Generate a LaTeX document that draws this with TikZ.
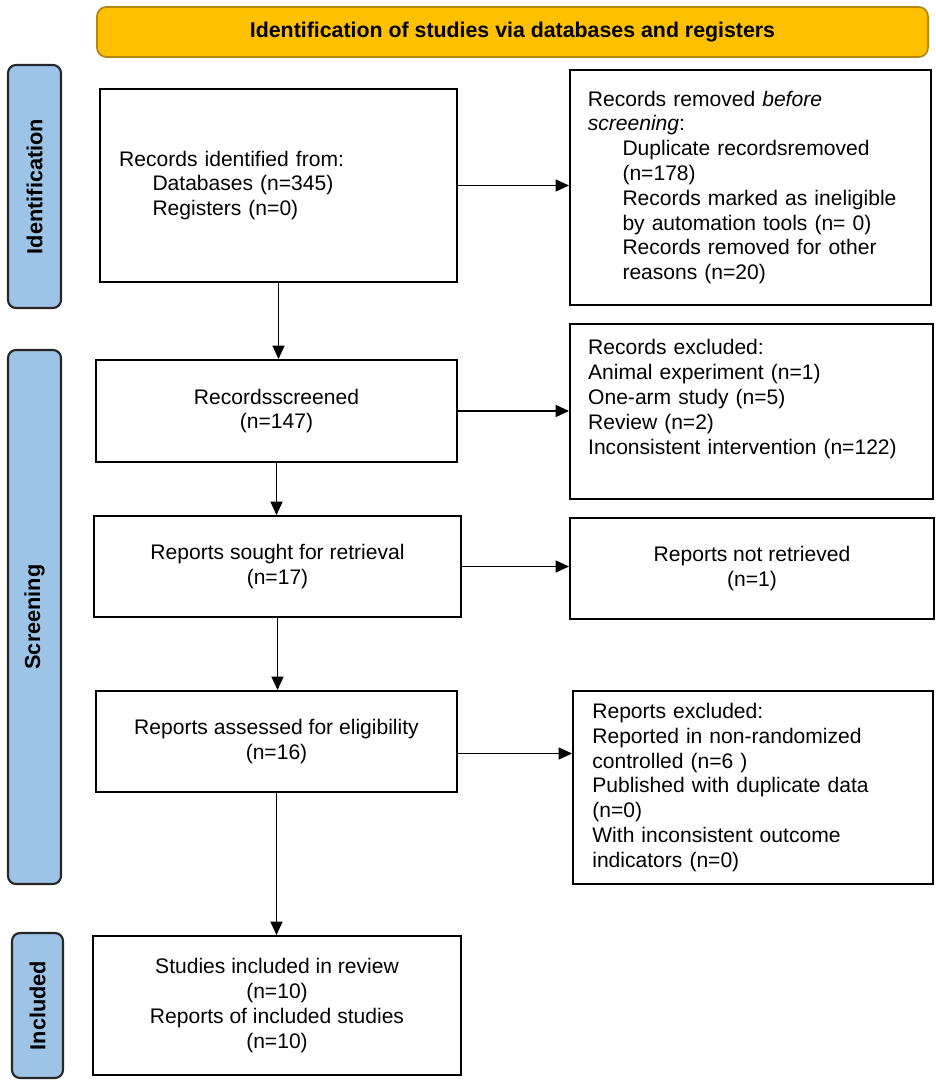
\documentclass[tikz,border=0pt]{standalone}
\usepackage{fontspec}
\setmainfont{Liberation Sans}
\usetikzlibrary{arrows.meta}
\definecolor{bannerfill}{RGB}{255,192,0}
\definecolor{bannerdraw}{RGB}{176,134,20}
\definecolor{phasefill}{RGB}{157,195,230}
\begin{document}
\begin{tikzpicture}[x=0.75pt,y=-0.75pt,
  sz/.style 2 args={minimum width=#1*0.75pt, minimum height=#2*0.75pt},
  box/.style={draw, line width=1.5pt, inner sep=0pt, font=\fontsize{15.8}{18.6}\selectfont},
  phase/.style={draw=black!85, fill=phasefill, rounded corners=6pt, line width=1.6pt, inner sep=0pt},
  phasetext/.style={rotate=90, font=\bfseries\fontsize{16.3}{19}\selectfont},
  banner/.style={draw=bannerdraw, fill=bannerfill, rounded corners=7pt, line width=1.3pt, inner sep=0pt, font=\bfseries\fontsize{16}{19}\selectfont},
  arr/.style={line width=1.05pt, -{Triangle[length=10pt,width=9pt]}}]
\useasboundingbox (0,0) rectangle (935,1087);

% banner
\node[banner, sz={831}{50}] (ban) at (512.5,32) {Identification of studies via databases and registers};

% phase labels
\node[phase, sz={53}{243}] (ph1) at (34.5,186.5) {};
\node[phasetext] (ph1t) at (ph1.center) {Identification};
\node[phase, sz={53}{534}] (ph2) at (34.5,617) {};
\node[phasetext] (ph2t) at (ph2.center) {Screening};
\node[phase, sz={51}{145}] (ph3) at (37.5,1005.5) {};
\node[phasetext] (ph3t) at (ph3.center) {Included};

% left column
\node[box, sz={357}{193}, align=left, text width=239pt] (b1) at (278.5,185.5)
  {Records identified from:\\
   \hspace*{25pt}Databases (n=345)\\
   \hspace*{25pt}Registers (n=0)};
\node[box, sz={361}{102}, align=center] (b2) at (276.5,411) {Recordsscreened\\(n=147)};
\node[box, sz={367}{101}, align=center] (b3) at (277.5,566.5) {Reports sought for retrieval\\(n=17)};
\node[box, sz={361}{101}, align=center] (b4) at (276.5,741.5) {Reports assessed for eligibility\\(n=16)};
\node[box, sz={368}{139}, align=center] (b5) at (277,1005.5)
  {Studies included in review\\(n=10)\\Reports of included studies\\(n=10)};

% right column
\node[box, sz={361}{235}, align=left, text width=244pt] (r1) at (750.5,187.5)
  {Records removed \textit{before}\\
   \textit{screening}:\\
   \hspace*{26pt}Duplicate recordsremoved\\
   \hspace*{26pt}(n=178)\\
   \hspace*{26pt}Records marked as ineligible\\
   \hspace*{26pt}by automation tools (n= 0)\\
   \hspace*{26pt}Records removed for other\\
   \hspace*{26pt}reasons (n=20)};
\node[box, sz={363}{175}, align=left, text width=245pt] (r2) at (751.5,411.5)
  {Records excluded:\\
   Animal experiment (n=1)\\
   One-arm study (n=5)\\
   Review (n=2)\\
   Inconsistent intervention (n=122)\\[3.5pt]\mbox{}};
\node[box, sz={364}{101}, align=center] (r3) at (752,568.5) {Reports not retrieved\\(n=1)};
\node[box, sz={360}{193}, align=left, text width=241pt] (r4) at (753,787.5)
  {Reports excluded:\\
   Reported in non-randomized\\
   controlled (n=6 )\\
   Published with duplicate data\\
   (n=0)\\
   With inconsistent outcome\\
   indicators (n=0)};

% connectors
\draw[arr] (b1.east) -- (b1.east -| r1.west);
\draw[arr] (b1.south) -- (b1.south |- b2.north);
\draw[arr] (b2.east) -- (b2.east -| r2.west);
\draw[arr] (b2.south) -- (b2.south |- b3.north);
\draw[arr] (b3.east) -- (b3.east -| r3.west);
\draw[arr] (b3.south) -- (b3.south |- b4.north);
\coordinate (e4) at ([yshift=-9pt]b4.east);
\draw[arr] (e4) -- (e4 -| r4.west);
\draw[arr] (b4.south) -- (b4.south |- b5.north);
\end{tikzpicture}
\end{document}
